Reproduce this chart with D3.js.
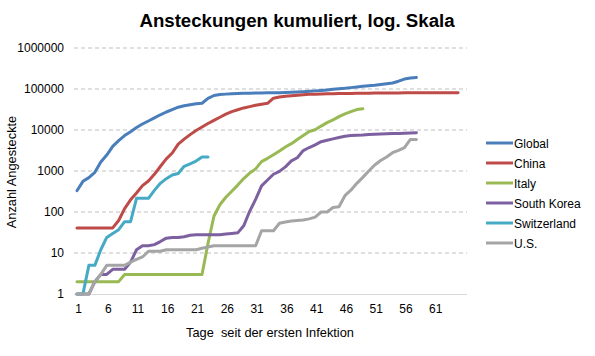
<!DOCTYPE html>
<html>
<head>
<meta charset="utf-8">
<script src="https://cdn.jsdelivr.net/npm/d3@7"></script>
<style>
  html, body { margin: 0; padding: 0; background: #fff; }
  svg { display: block; font-family: "Liberation Sans", Arial, sans-serif; }
</style>
</head>
<body>
<svg id="chart" width="595" height="356"></svg>
<script>
// ---- data ----
const title = "Ansteckungen kumuliert, log. Skala";
const xTitle = "Tage  seit der ersten Infektion";
const yTitle = "Anzahl Angesteckte";
const days = d3.range(1, 67);
const xTickLabels = [1, 6, 11, 16, 21, 26, 31, 36, 41, 46, 51, 56, 61];
const yTickLabels = [1, 10, 100, 1000, 10000, 100000, 1000000];
const seriesNames = ["Global", "China", "Italy", "South Korea", "Switzerland", "U.S."];
const seriesColors = ["#4A7EBB", "#BE4B48", "#98B954", "#7D60A0", "#46AAC5", "#A5A5A5"];

const globalVals = [330, 560, 690, 930, 1650, 2450, 4000, 5500, 7300, 9100,
  11500, 14000, 16600, 19700, 23500, 27500, 31500, 36000, 39000, 41500,
  43500, 45000, 59000, 69500, 73000, 75000, 76500, 77500, 78500, 79000,
  79500, 80000, 80500, 81000, 81500, 82000, 83000, 84500, 86000, 88000,
  90000, 92500, 95000, 98000, 101000, 104000, 108000, 112000, 116000, 120000,
  123000, 128000, 134000, 140000, 155000, 175000, 185000, 192000];
const chinaVals = [41, 41, 41, 41, 41, 41, 41, 62, 121, 198,
  291, 440, 571, 830, 1287, 1975, 2744, 4515, 5974, 7711,
  9692, 11791, 14380, 17205, 20438, 24324, 28018, 31161, 34546, 37198,
  40171, 42638, 44653, 59804, 63851, 66492, 68500, 70548, 72436, 74185,
  74576, 75465, 76288, 76936, 77150, 77658, 78064, 78497, 78824, 79251,
  79826, 80026, 80151, 80270, 80409, 80552, 80651, 80695, 80735, 80754,
  80778, 80793, 80813, 80824, 80844];
const italyVals = [2, 2, 2, 2, 2, 2, 2, 2, 3, 3,
  3, 3, 3, 3, 3, 3, 3, 3, 3, 3,
  3, 3, 17, 79, 150, 229, 322, 453, 655, 888,
  1128, 1694, 2036, 2502, 3089, 3858, 4636, 5883, 7375, 9172,
  10149, 12462, 15113, 17660, 21157, 24747, 27980, 31506, 33000];
const koreaVals = [1, 1, 1, 2, 3, 3, 4, 4, 4, 6,
  12, 15, 15, 16, 19, 23, 24, 24, 25, 27,
  28, 28, 28, 28, 28, 29, 30, 31, 46, 104,
  204, 433, 602, 833, 977, 1261, 1766, 2100, 3150, 3736,
  4335, 5186, 5621, 6088, 6593, 7041, 7314, 7478, 7513, 7755,
  7869, 7979, 8086, 8162, 8236, 8320, 8413, 8565];
const swissVals = [1, 1, 5, 5, 12, 24, 30, 37, 58, 58,
  215, 215, 215, 337, 500, 650, 800, 870, 1300, 1500,
  1750, 2200, 2200];
const usVals = [1, 1, 1, 2, 3, 5, 5, 5, 5, 6,
  7, 8, 11, 11, 11, 12, 12, 12, 12, 12,
  12, 13, 14, 15, 15, 15, 15, 15, 15, 15,
  15, 35, 35, 35, 53, 57, 60, 62, 64, 68,
  75, 100, 100, 129, 134, 250, 340, 500, 700, 1000,
  1400, 1800, 2200, 2800, 3200, 3700, 5900, 5900];
const seriesValues = [globalVals, chinaVals, italyVals, koreaVals, swissVals, usVals];

// ---- drawing ----
const svg = d3.select("#chart");
const plot = { left: 74, right: 467, top: 48, bottom: 294 };

const x = d3.scalePoint().domain(days).range([plot.left, plot.right]).padding(0.5);
const y = d3.scaleLog().domain([1, 1000000]).range([plot.bottom, plot.top]);

// title
svg.append("text")
  .attr("x", 297).attr("y", 26.5)
  .attr("text-anchor", "middle")
  .style("font-size", "18.67px").style("font-weight", "bold").attr("fill", "#000")
  .text(title);

// gridlines
svg.append("g").selectAll("line")
  .data(yTickLabels.filter(v => v > 1))
  .join("line")
  .attr("x1", plot.left).attr("x2", plot.right)
  .attr("y1", d => y(d)).attr("y2", d => y(d))
  .attr("stroke", "#BFBFBF").attr("stroke-width", 1)
  .attr("stroke-dasharray", "4,3");

// y axis (labels only)
const yAxis = svg.append("g")
  .attr("transform", `translate(${plot.left},0)`)
  .call(d3.axisLeft(y).tickValues(yTickLabels).tickFormat(d3.format("d")).tickSize(0).tickPadding(10));
yAxis.select(".domain").remove();
yAxis.selectAll("text").style("font-size", "12px").attr("fill", "#000")
  .style("font-family", "'Liberation Sans', Arial, sans-serif");

// x axis
const xAxis = svg.append("g")
  .attr("transform", `translate(0,${plot.bottom})`)
  .call(d3.axisBottom(x).tickValues(xTickLabels).tickSize(0).tickPadding(10));
xAxis.select(".domain").attr("stroke", "#D9D9D9").attr("stroke-width", 1)
  .attr("d", `M${plot.left},0.5H${plot.right}`);
xAxis.selectAll("text").style("font-size", "12px").attr("fill", "#000")
  .style("font-family", "'Liberation Sans', Arial, sans-serif")
  .attr("dx", "1");

// axis titles
svg.append("text")
  .attr("x", 270).attr("y", 337)
  .attr("text-anchor", "middle")
  .style("font-size", "12.8px").style("white-space", "pre").attr("fill", "#000")
  .text(xTitle);
svg.append("text")
  .attr("transform", "translate(15.5,172) rotate(-90)")
  .attr("text-anchor", "middle")
  .style("font-size", "12.8px").attr("fill", "#000")
  .text(yTitle);

// lines
const line = d3.line()
  .x((d, i) => x(days[i]))
  .y(d => y(d));
const lineG = svg.append("g");
seriesValues.forEach((vals, k) => {
  lineG.append("path")
    .datum(vals)
    .attr("d", line)
    .attr("fill", "none")
    .attr("stroke", seriesColors[k])
    .attr("stroke-width", 3)
    .attr("stroke-linejoin", "round")
    .attr("stroke-linecap", "round");
});

// legend
const legend = svg.append("g");
seriesNames.forEach((name, k) => {
  const ly = 143 + k * 20;
  legend.append("line")
    .attr("x1", 486).attr("x2", 513).attr("y1", ly).attr("y2", ly)
    .attr("stroke", seriesColors[k]).attr("stroke-width", 3);
  legend.append("text")
    .attr("x", 514).attr("y", ly + 4.5)
    .style("font-size", "12px").attr("fill", "#000")
    .text(name);
});
</script>
</body>
</html>
